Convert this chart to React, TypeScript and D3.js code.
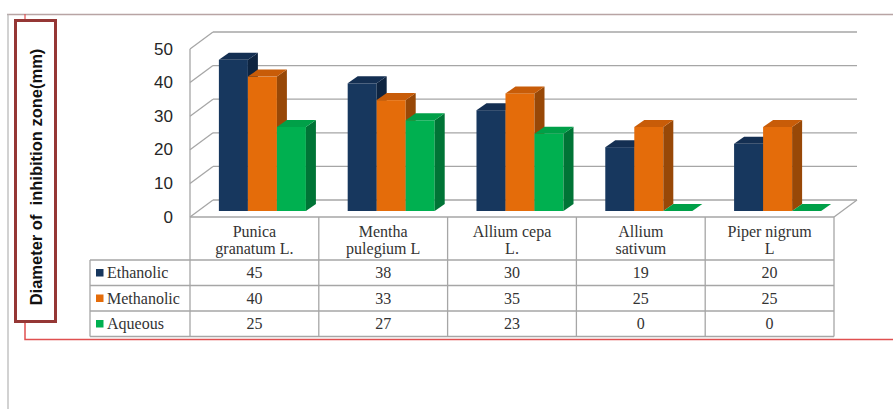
import { scaleBand, scaleLinear } from "d3";

const categories = ["Punica granatum L.", "Mentha pulegium L", "Allium cepa L.", "Allium sativum", "Piper nigrum L"];
const categoryLines = [
    ["Punica", "granatum L."],
    ["Mentha", "pulegium L"],
    ["Allium cepa", "L."],
    ["Allium", "sativum"],
    ["Piper nigrum", "L"]
];
const seriesNames = ["Ethanolic", "Methanolic", "Aqueous"];
const ethanolic = [45, 38, 30, 19, 20];
const methanolic = [40, 33, 35, 25, 25];
const aqueous = [25, 27, 23, 0, 0];
const yTicks = [0, 10, 20, 30, 40, 50];
const yLabel = "Diameter of  inhibition zone(mm)";

const seriesValues = [ethanolic, methanolic, aqueous];
const colors = [
    { front: "#17375E", top: "#142f52", side: "#0e2440" },
    { front: "#E46C0A", top: "#c85c08", side: "#984807" },
    { front: "#00B050", top: "#00a048", side: "#007436" }
];

const W = 893;
const H = 409;
const grid = "#a6a6a6";
const depth = { dx: 23, dy: -17 };
const barShift = { dx: 8, dy: -6 };
const barDepth = { dx: 10, dy: -7 };
const serif = "'Liberation Serif', 'Times New Roman', serif";
const sans = "'Liberation Sans', Arial, sans-serif";

const pts = (p: number[][]) => p.map(([a, b]) => `${a},${b}`).join(" ");

export default function App() {
    const x0 = scaleBand().domain(categories).range([190, 834]);
    const x1 = scaleBand()
        .domain(seriesNames)
        .range([0, x0.bandwidth()])
        .paddingInner(0)
        .paddingOuter(0.72);
    const y = scaleLinear().domain([0, 50]).range([217, 49]);

    const left = 190;
    const right = 834;
    const base = y(0);
    const tableTop = 260;
    const rowH = 25.5;
    const tableBottom = tableTop + rowH * 3;
    const legendLeft = 90;

    return (
        <div style={{ position: "absolute", left: 0, top: 0 }}>
            <svg width={W} height={H} style={{ display: "block", background: "#fff" }}>
                {/* outer frame */}
                <line x1={7} y1={14.5} x2={W} y2={14.5} stroke="#b8a4a4" strokeWidth={1.5} />
                <line x1={8} y1={14} x2={8} y2={H} stroke="#b4b4b4" strokeWidth={1.2} />
                <line x1={25} y1={14} x2={25} y2={20} stroke="#e05050" strokeWidth={1.2} />
                <polyline
                    points={pts([[25, 322], [25, 339.5], [W, 339.5]])}
                    fill="none"
                    stroke="#e05050"
                    strokeWidth={1.5}
                />

                {/* y label box */}
                <rect x={15.5} y={20.5} width={40} height={301} fill="#fff" stroke="#953735" strokeWidth={3} />
                <text
                    transform={`translate(36,177) rotate(-90)`}
                    textAnchor="middle"
                    dominantBaseline="central"
                    fontFamily={sans}
                    fontWeight="bold"
                    fontSize={16.5}
                    fill="#111"
                    style={{ whiteSpace: "pre" }}
                >
                    {yLabel}
                </text>

                {/* walls and grid */}
                {yTicks.map((t) => (
                    <g key={`g-${t}`}>
                        <line
                            x1={left}
                            y1={y(t)}
                            x2={left + depth.dx}
                            y2={y(t) + depth.dy}
                            stroke={grid}
                            strokeWidth={1.3}
                        />
                        <line
                            x1={left + depth.dx}
                            y1={y(t) + depth.dy}
                            x2={right + depth.dx}
                            y2={y(t) + depth.dy}
                            stroke={grid}
                            strokeWidth={1.3}
                        />
                        <text
                            x={173}
                            y={y(t)}
                            textAnchor="end"
                            dominantBaseline="central"
                            fontFamily={sans}
                            fontSize={17}
                            fill="#262626"
                        >
                            {t}
                        </text>
                    </g>
                ))}
                <line x1={left} y1={y(50)} x2={left} y2={base} stroke={grid} strokeWidth={1.3} />
                <line
                    x1={right}
                    y1={base}
                    x2={right + depth.dx}
                    y2={base + depth.dy}
                    stroke={grid}
                    strokeWidth={1.3}
                />

                {/* bars */}
                {categories.map((c, i) =>
                    seriesNames.map((s, k) => {
                        const v = seriesValues[k][i];
                        const x = (x0(c) ?? 0) + (x1(s) ?? 0) + barShift.dx;
                        const w = x1.bandwidth();
                        const yb = base + barShift.dy;
                        const yt = y(v) + barShift.dy;
                        const { dx, dy } = barDepth;
                        return (
                            <g key={`b-${i}-${k}`}>
                                <rect x={x} y={yt} width={w} height={yb - yt} fill={colors[k].front} />
                                <polygon
                                    points={pts([[x + w, yt], [x + w + dx, yt + dy], [x + w + dx, yb + dy], [x + w, yb]])}
                                    fill={colors[k].side}
                                />
                                <polygon
                                    points={pts([[x, yt], [x + dx, yt + dy], [x + w + dx, yt + dy], [x + w, yt]])}
                                    fill={colors[k].top}
                                />
                            </g>
                        );
                    })
                )}

                {/* data table */}
                <rect x={left} y={base} width={right - left} height={tableBottom - base} fill="#fff" />
                <rect x={legendLeft} y={tableTop} width={left - legendLeft} height={tableBottom - tableTop} fill="#fff" />
                <line x1={left} y1={base} x2={right} y2={base} stroke={grid} strokeWidth={1.3} />
                {[0, 1, 2, 3].map((r) => (
                    <line
                        key={`h-${r}`}
                        x1={legendLeft}
                        y1={tableTop + r * rowH}
                        x2={right}
                        y2={tableTop + r * rowH}
                        stroke={grid}
                        strokeWidth={1.3}
                    />
                ))}
                <line x1={legendLeft} y1={tableTop} x2={legendLeft} y2={tableBottom} stroke={grid} strokeWidth={1.3} />
                {categories.map((c) => (
                    <line
                        key={`v-${c}`}
                        x1={x0(c)}
                        y1={base}
                        x2={x0(c)}
                        y2={tableBottom}
                        stroke={grid}
                        strokeWidth={1.3}
                    />
                ))}
                <line x1={right} y1={base} x2={right} y2={tableBottom} stroke={grid} strokeWidth={1.3} />

                {categories.map((c, i) => {
                    const cx = (x0(c) ?? 0) + x0.bandwidth() / 2;
                    return (
                        <g key={`t-${c}`} fontFamily={serif} fontSize={16} fill="#333" textAnchor="middle">
                            <text x={cx} y={237}>{categoryLines[i][0]}</text>
                            <text x={cx} y={254}>{categoryLines[i][1]}</text>
                            {seriesValues.map((vals, k) => (
                                <text key={`v-${k}`} x={cx} y={tableTop + k * rowH + 18}>
                                    {vals[i]}
                                </text>
                            ))}
                        </g>
                    );
                })}

                {seriesNames.map((s, k) => (
                    <g key={`l-${s}`}>
                        <rect x={96} y={tableTop + k * rowH + 9} width={7.5} height={7.5} fill={colors[k].front} />
                        <text
                            x={107}
                            y={tableTop + k * rowH + 18}
                            fontFamily={serif}
                            fontSize={16}
                            fill="#333"
                        >
                            {s}
                        </text>
                    </g>
                ))}
            </svg>
        </div>
    );
}
